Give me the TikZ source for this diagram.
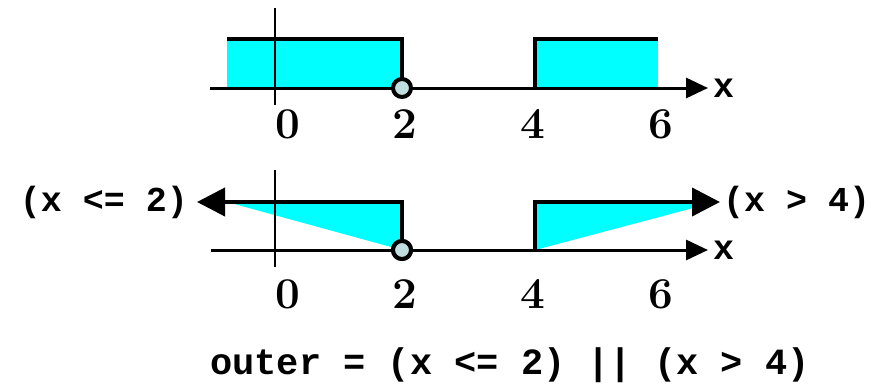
\documentclass[tikz,border=0pt]{standalone}
\usepackage{fontspec}
\setmonofont{Liberation Mono}
\usetikzlibrary{arrows.meta,positioning}
\definecolor{fillcyan}{RGB}{0,255,255}
\definecolor{dotfill}{RGB}{192,222,224}

\tikzset{
  axisline/.style={line width=3pt,-{Triangle[length=22pt,width=20pt]}},
  yaxisline/.style={line width=2pt},
  stepline/.style={line width=4pt,line join=miter},
  rayline/.style={line width=4pt,line join=miter,-{Triangle[length=28pt,width=28pt]}},
  opendot/.style={circle,draw,line width=4pt,fill=dotfill,inner sep=0pt,minimum size=18pt},
  ticklabel/.style={font=\fontsize{44}{44}\selectfont\bfseries},
  codelabel/.style={font=\fontsize{35}{35}\selectfont\ttfamily\bfseries,inner sep=0pt},
}

\begin{document}
\begin{tikzpicture}[x=1pt,y=-1pt]
\useasboundingbox (0,0) rectangle (886,391);

% Top number line
\fill[fillcyan] (227,41) rectangle (402,88);
\fill[fillcyan] (535,41) rectangle (658,88);
\coordinate (topstart) at (210,88);
\coordinate (topend) at (708,88);
\coordinate (topyup) at (275,8);
\coordinate (topydown) at (275,105);
\draw[yaxisline] (topyup) -- (topydown);
\draw[axisline] (topstart) -- (topend);
\draw[stepline] (227,39) -- (402,39) -- (402,88);
\draw[stepline] (535,88) -- (535,39) -- (658,39);
\node[opendot] (topdot) at (402,88) {};
\node[codelabel, right=5pt of topend] (topx) {x};

\node[ticklabel] (topzero) at (288,124) {0};
\node[ticklabel] (toptwo) at (405,124) {2};
\node[ticklabel] (topfour) at (533,124) {4};
\node[ticklabel] (topsix) at (661,124) {6};

% Bottom number line with rays
\fill[fillcyan] (227,202) -- (402,202) -- (402,250) -- cycle;
\fill[fillcyan] (535,202) -- (716,202) -- (535,250) -- cycle;
\coordinate (botstart) at (211,250);
\coordinate (botend) at (708,250);
\coordinate (botyup) at (275,170);
\coordinate (botydown) at (275,267);
\coordinate (leftcorner) at (402,202);
\coordinate (lefttip) at (197,202);
\coordinate (rightfoot) at (535,250);
\coordinate (rightcorner) at (535,202);
\coordinate (righttip) at (720,202);
\draw[yaxisline] (botyup) -- (botydown);
\draw[axisline] (botstart) -- (botend);
\node[opendot] (botdot) at (402,250) {};
\draw[rayline] (botdot.center) -- (leftcorner) -- (lefttip);
\draw[rayline] (rightfoot) -- (rightcorner) -- (righttip);
\node[opendot] at (botdot) {};
\node[codelabel, right=5pt of botend] (botx) {x};
\node[codelabel, left=9pt of lefttip] (leftlabel) {(x <= 2)};
\node[codelabel, right=3pt of righttip] (rightlabel) {(x > 4)};

\node[ticklabel] (botzero) at (288,294) {0};
\node[ticklabel] (bottwo) at (405,294) {2};
\node[ticklabel] (botfour) at (533,294) {4};
\node[ticklabel] (botsix) at (661,294) {6};

% Expression
\node[codelabel, font=\fontsize{37}{37}\selectfont\ttfamily\bfseries] (formula) at (510,365) {outer = (x <= 2) || (x > 4)};
\end{tikzpicture}
\end{document}
